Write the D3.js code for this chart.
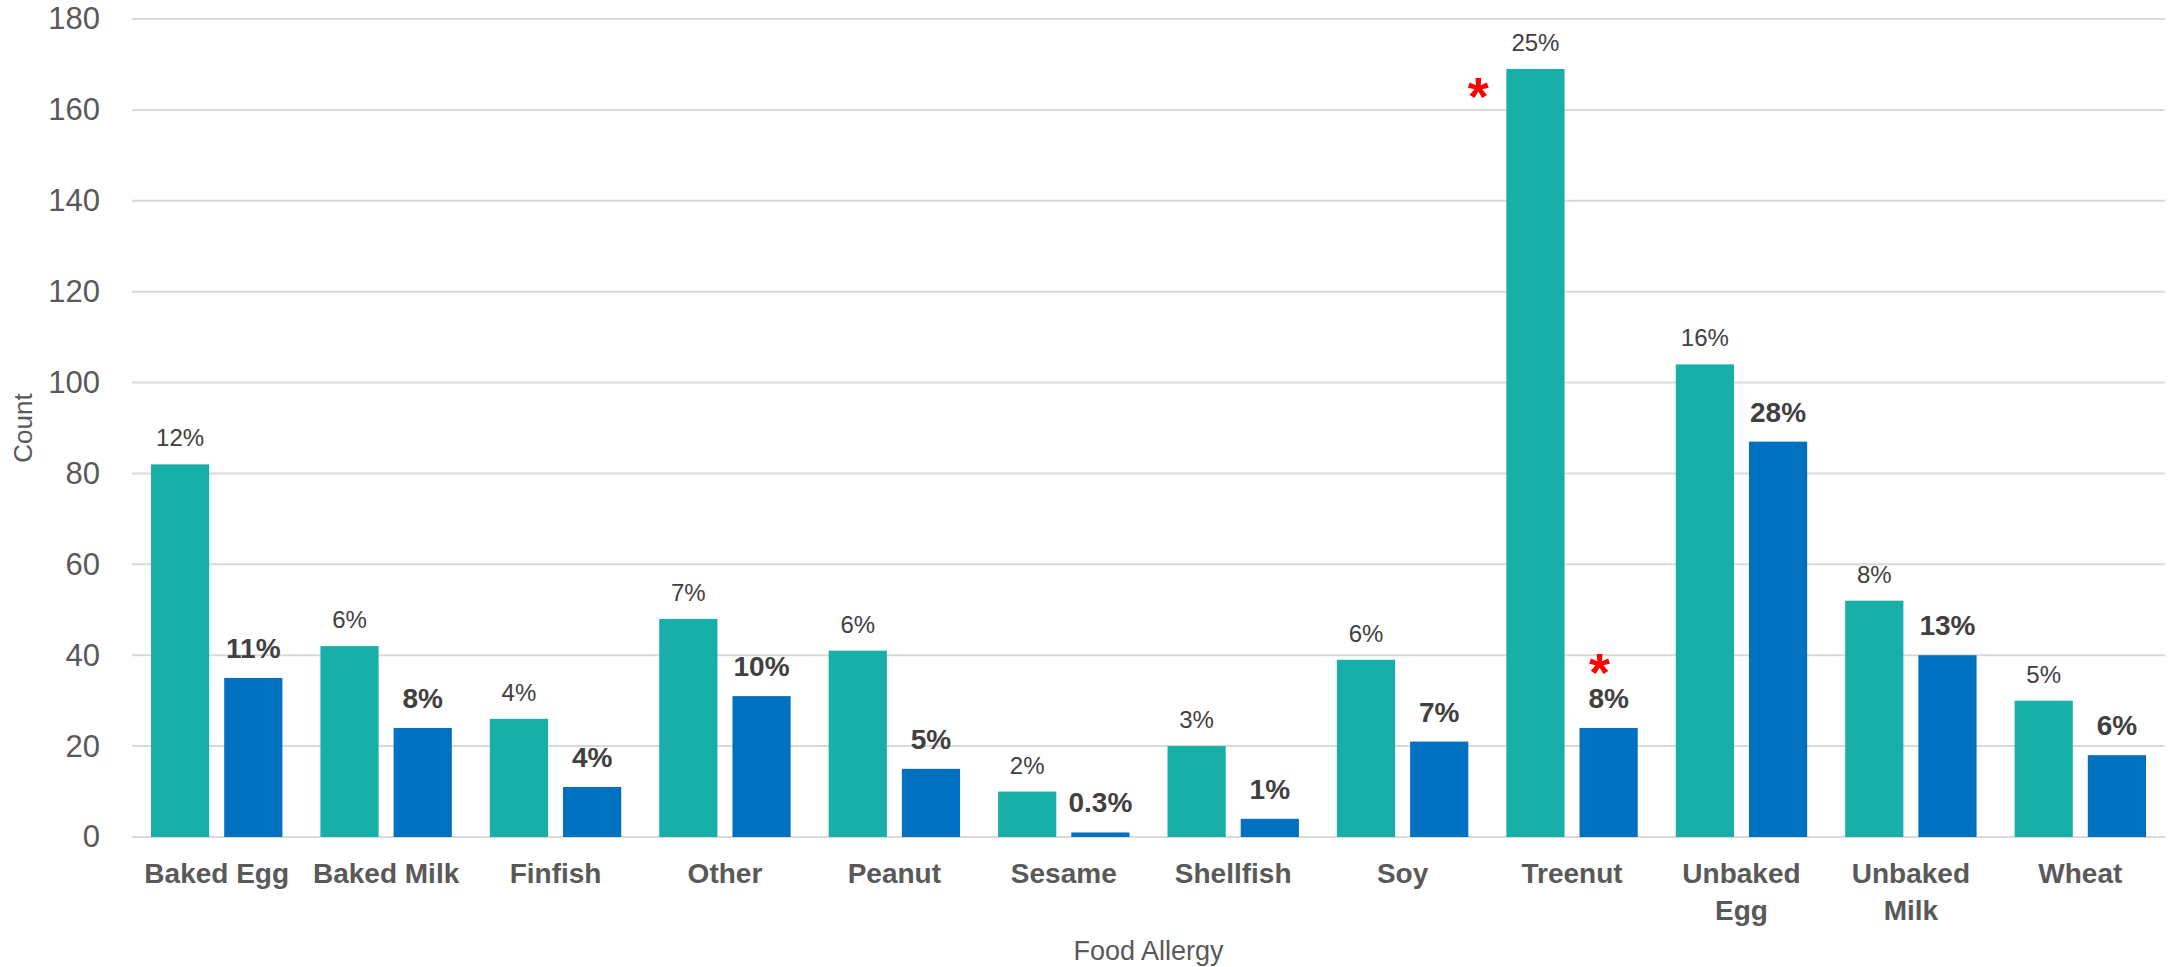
<!DOCTYPE html>
<html>
<head>
<meta charset="utf-8">
<script src="https://cdn.jsdelivr.net/npm/d3@7"></script>
<style>
  html, body { margin: 0; padding: 0; background: #fff; }
  svg { display: block; font-family: "Liberation Sans", Arial, Helvetica, sans-serif; }
</style>
</head>
<body>
<svg id="chart" width="2177" height="967"></svg>
<script>
// ---- Data ----
const categories = ["Baked Egg", "Baked Milk", "Finfish", "Other", "Peanut", "Sesame",
  "Shellfish", "Soy", "Treenut", "Unbaked Egg", "Unbaked Milk", "Wheat"];
const seriesNames = ["Series A", "Series B"];
const seriesA = [82, 42, 26, 48, 41, 10, 20, 39, 169, 104, 52, 30];
const seriesB = [35, 24, 11, 31, 15, 1, 4, 21, 24, 87, 40, 18];
const labelsA = ["12%", "6%", "4%", "7%", "6%", "2%", "3%", "6%", "25%", "16%", "8%", "5%"];
const labelsB = ["11%", "8%", "4%", "10%", "5%", "0.3%", "1%", "7%", "8%", "28%", "13%", "6%"];
const yTicks = [0, 20, 40, 60, 80, 100, 120, 140, 160, 180];
const starred = [{ category: "Treenut", series: "Series A" }, { category: "Treenut", series: "Series B" }];
const xTitle = "Food Allergy";
const yTitle = "Count";

// ---- Layout ----
const svg = d3.select("#chart");
const margin = { left: 132, right: 2177 - 2165, top: 19, bottom: 967 - 837 };
const W = 2177, H = 967;
const colors = { "Series A": "#18AFA8", "Series B": "#0070C0" };

const x0 = d3.scaleBand().domain(categories)
  .range([margin.left, W - margin.right])
  .paddingInner(0.2245).paddingOuter(0.1122);
const x1 = d3.scaleBand().domain(seriesNames)
  .range([0, x0.bandwidth()]).paddingInner(0.205);
const y = d3.scaleLinear().domain([0, 180]).range([H - margin.bottom, margin.top]);

// gridlines
svg.append("g").selectAll("line").data(yTicks).join("line")
  .attr("x1", margin.left).attr("x2", W - margin.right)
  .attr("y1", d => y(d)).attr("y2", d => y(d))
  .attr("stroke", "#D9D9D9").attr("stroke-width", 2);

// y axis labels
const yAxis = d3.axisLeft(y).tickValues(yTicks).tickSize(0).tickPadding(0);
const yg = svg.append("g").attr("transform", `translate(${margin.left - 32},0)`).call(yAxis);
yg.select(".domain").remove();
yg.selectAll("text").attr("font-size", 31).attr("fill", "#595959")
  .attr("font-family", "'Liberation Sans', Arial, sans-serif");

// rows of data
const isStarred = (c, s) => starred.some(d => d.category === c && d.series === s);
const rows = categories.map((c, i) => ({
  category: c,
  values: [
    { category: c, series: "Series A", value: seriesA[i], label: labelsA[i] },
    { category: c, series: "Series B", value: seriesB[i], label: labelsB[i] }
  ]
}));

const groups = svg.append("g").selectAll("g").data(rows).join("g")
  .attr("transform", d => `translate(${x0(d.category)},0)`);

groups.selectAll("rect").data(d => d.values).join("rect")
  .attr("x", d => x1(d.series))
  .attr("width", x1.bandwidth())
  .attr("y", d => y(d.value))
  .attr("height", d => y(0) - y(d.value))
  .attr("fill", d => colors[d.series]);

const vals = groups.selectAll("text.val").data(d => d.values).join("text")
  .attr("class", "val")
  .attr("text-anchor", "middle")
  .attr("font-size", d => d.series === "Series A" ? 24 : 28)
  .attr("font-weight", d => d.series === "Series A" ? "normal" : "bold")
  .attr("fill", "#404040");

// optional red asterisk (as part of the same text element for series B)
vals.each(function (d) {
  const t = d3.select(this);
  const cx = x1(d.series) + x1.bandwidth() / 2;
  const by = y(d.value) - (d.series === "Series A" ? 18 : 20);
  if (isStarred(d.category, d.series) && d.series === "Series B") {
    t.append("tspan").attr("x", cx - 9).attr("y", by - 17)
      .attr("font-size", 54).attr("fill", "#FF0000").text("*");
  }
  t.append("tspan").attr("x", cx).attr("y", by).text(d.label);
});

// asterisk left of series A bar
starred.filter(s => s.series === "Series A").forEach(s => {
  const i = categories.indexOf(s.category);
  const v = seriesA[i];
  const bx = x0(s.category) + x1(s.series);
  svg.append("text")
    .attr("x", bx - 28).attr("y", y(v) + 46)
    .attr("text-anchor", "middle")
    .attr("font-size", 54).attr("font-weight", "bold")
    .attr("fill", "#FF0000")
    .text("*");
});

// category labels (wrapped)
const xg = svg.append("g");
categories.forEach(c => {
  const words = c.split(" ");
  const lines = (c.startsWith("Unbaked")) ? [words[0], words.slice(1).join(" ")] : [c];
  const t = xg.append("text")
    .attr("text-anchor", "middle")
    .attr("font-size", 28).attr("font-weight", "bold").attr("fill", "#595959");
  lines.forEach((ln, k) => {
    t.append("tspan").attr("x", x0(c) + x0.bandwidth() / 2)
      .attr("y", 883 + k * 37).text(ln);
  });
});

// axis titles
svg.append("text")
  .attr("x", (margin.left + W - margin.right) / 2).attr("y", 960)
  .attr("text-anchor", "middle").attr("font-size", 27).attr("fill", "#595959")
  .text(xTitle);
svg.append("text")
  .attr("transform", `translate(32,${(y(0) + y(180)) / 2}) rotate(-90)`)
  .attr("text-anchor", "middle").attr("font-size", 26).attr("fill", "#595959")
  .text(yTitle);
</script>
</body>
</html>
